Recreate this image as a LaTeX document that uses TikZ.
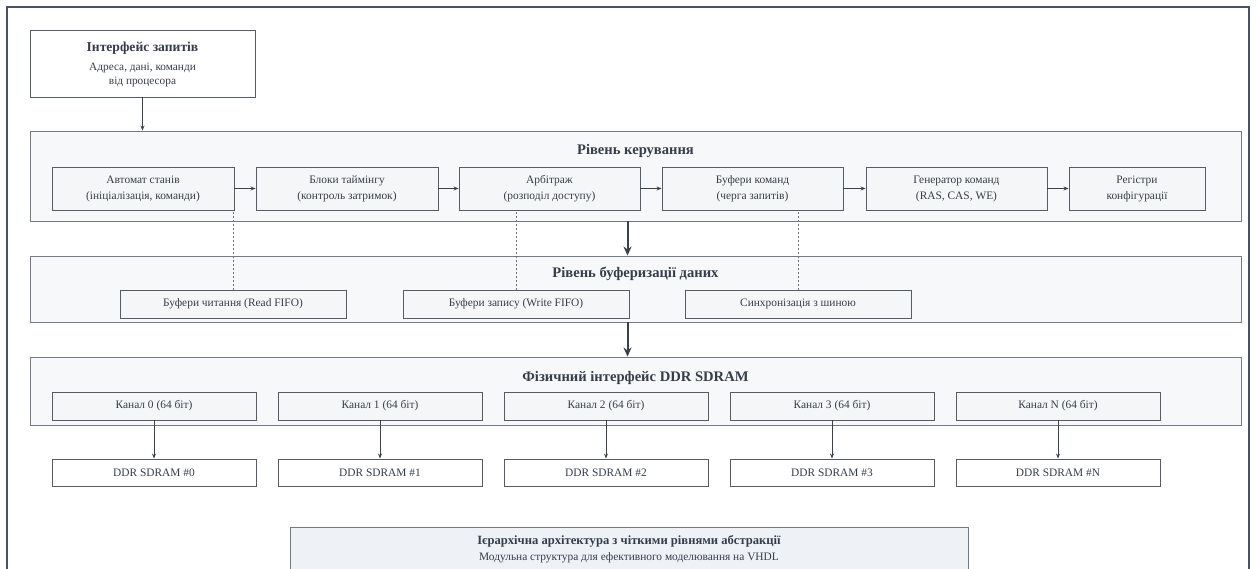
\documentclass[tikz,border=0pt]{standalone}
\usepackage{fontspec}
\setmainfont{Liberation Serif}
\usetikzlibrary{arrows.meta,shadows}
\definecolor{frame}{HTML}{4A5260}
\definecolor{panelfill}{HTML}{F7F8FA}
\definecolor{panelline}{HTML}{737A86}
\definecolor{boxfill}{HTML}{F5F6F8}
\definecolor{boxline}{HTML}{555C68}
\definecolor{txt}{HTML}{363D4A}
\definecolor{notefill}{HTML}{EEF2F7}
\definecolor{arr}{HTML}{3A404C}
\definecolor{dotc}{HTML}{6B717C}
\tikzset{
  panel/.style={draw=panelline, fill=panelfill, line width=0.9pt, inner sep=0pt},
  blk/.style={draw=boxline, fill=boxfill, line width=0.9pt, inner sep=0pt, align=center,
     text=txt, font=\fontsize{11.4}{16}\selectfont,
     drop shadow={shadow xshift=1pt, shadow yshift=-1.2pt, fill=black, opacity=0.15}},
  ttl/.style={text=txt, font=\fontsize{14.6}{17}\selectfont\bfseries, inner sep=0pt},
  thin arrow/.style={draw=arr, line width=0.8pt, -{Stealth[length=5pt,width=4pt]}},
  thick arrow/.style={draw=arr, line width=2pt, -{Stealth[length=9pt,width=8pt]}},
  dotline/.style={draw=dotc, line width=0.8pt, dash pattern=on 2pt off 2pt},
}
\begin{document}
\begin{tikzpicture}[x=1pt,y=-1pt]
\clip (0,0) rectangle (1256,569);
\fill[white] (0,0) rectangle (1256,569);
\draw[frame, line width=2pt] (7,7) rectangle (1249,620);

% top box
\node[blk, fill=white, minimum width=225pt, minimum height=67pt] (req) at (142.5,63.5) {};
\node[ttl, font=\fontsize{13.6}{16}\selectfont\bfseries] (reqt) at (142.5,48) {Інтерфейс запитів};
\node[text=txt, font=\fontsize{11.3}{14.5}\selectfont, align=center, inner sep=0pt] (reqs) at (142.5,75) {Адреса, дані, команди\\від процесора};

% panel 1
\node[panel, minimum width=1211pt, minimum height=90pt] (p1) at (635.5,176) {};
\node[ttl] (p1t) at (635.5,151) {Рівень керування};
\node[blk, minimum width=182pt, minimum height=43pt] (c1) at (143,188.5) {Автомат станів\\(ініціалізація, команди)};
\node[blk, minimum width=182pt, minimum height=43pt] (c2) at (347,188.5) {Блоки таймінгу\\(контроль затримок)};
\node[blk, minimum width=181pt, minimum height=43pt] (c3) at (549.5,188.5) {Арбітраж\\(розподіл доступу)};
\node[blk, minimum width=181pt, minimum height=43pt] (c4) at (752.5,188.5) {Буфери команд\\(черга запитів)};
\node[blk, minimum width=181pt, minimum height=43pt] (c5) at (956.5,188.5) {Генератор команд\\(RAS, CAS, WE)};
\node[blk, minimum width=136pt, minimum height=43pt] (c6) at (1137,188.5) {Регістри\\конфігурації};

% panel 2
\node[panel, minimum width=1211pt, minimum height=66pt] (p2) at (635.5,289) {};
\node[ttl] (p2t) at (635.5,274) {Рівень буферизації даних};
\node[blk, minimum width=226pt, minimum height=28pt] (b1) at (233,304) {Буфери читання (Read FIFO)};
\node[blk, minimum width=226pt, minimum height=28pt] (b2) at (516,304) {Буфери запису (Write FIFO)};
\node[blk, minimum width=226pt, minimum height=28pt] (b3) at (798,304) {Синхронізація з шиною};

% panel 3
\node[panel, minimum width=1211pt, minimum height=68pt] (p3) at (635.5,391) {};
\node[ttl] (p3t) at (635.5,378) {Фізичний інтерфейс DDR SDRAM};
\foreach \i/\lab/\x in {0/0/154, 1/1/380, 2/2/606, 3/3/832, 4/N/1058}{
  \node[blk, minimum width=204pt, minimum height=28pt] (ch\i) at (\x,406) {Канал \lab\ (64 біт)};
  \node[blk, fill=white, minimum width=204pt, minimum height=27pt] (dd\i) at (\x,472.5) {DDR SDRAM \#\lab};
  \draw[thin arrow] (ch\i) -- (dd\i);
}

% bottom note
\node[draw=panelline, fill=notefill, line width=0.9pt, minimum width=678pt, minimum height=80pt, inner sep=0pt] (note) at (629,567) {};
\node[text=txt, font=\fontsize{12.6}{14}\selectfont\bfseries, inner sep=0pt] (notet) at (629,541) {Ієрархічна архітектура з чіткими рівнями абстракції};
\node[text=txt, font=\fontsize{11.4}{13}\selectfont, inner sep=0pt] (notes) at (629,557.5) {Модульна структура для ефективного моделювання на VHDL};

% connectors
\draw[thin arrow] (req) -- (req |- p1.north);
\draw[thin arrow] (c1) -- (c2);
\draw[thin arrow] (c2) -- (c3);
\draw[thin arrow] (c3) -- (c4);
\draw[thin arrow] (c4) -- (c5);
\draw[thin arrow] (c5) -- (c6);
\draw[dotline] (b1.north) -- (b1.north |- c1.south);
\draw[dotline] (b2.north) -- (b2.north |- c3.south);
\draw[dotline] (b3.north) -- (b3.north |- c4.south);
\draw[thick arrow] ([xshift=-8pt]p1.south) -- ([xshift=-8pt]p2.north);
\draw[thick arrow] ([xshift=-8pt]p2.south) -- ([xshift=-8pt]p3.north);
\end{tikzpicture}
\end{document}
